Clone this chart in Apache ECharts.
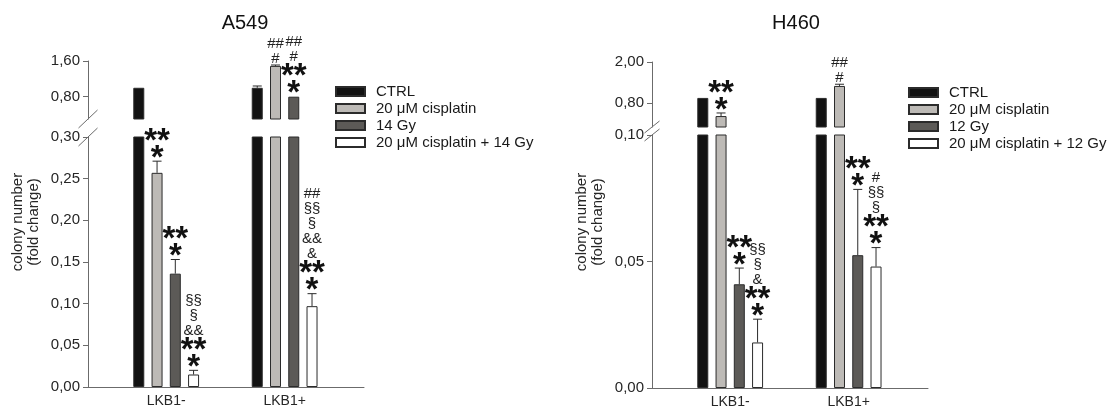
<!DOCTYPE html>
<html>
<head>
<meta charset="utf-8">
<script src="https://cdn.jsdelivr.net/npm/echarts@6/dist/echarts.min.js"></script>
<style>
  html, body { margin: 0; padding: 0; background: #ffffff; }
  #chart { width: 1117px; height: 410px; }
</style>
</head>
<body>
<div id="chart"></div>
<script>
// ---- data ----------------------------------------------------------------
const groups = ['LKB1-', 'LKB1+'];

// A549: rows = treatments, columns = [LKB1-, LKB1+]
const a549Treatments = ['CTRL', '20 μM cisplatin', '14 Gy', '20 μM cisplatin + 14 Gy'];
const a549Mean = [[1.00, 1.00], [0.257, 1.49], [0.136, 0.80], [0.015, 0.097]];
const a549Err = [[0, 0.04], [0.014, 0.02], [0.017, 0], [0.005, 0.015]];
const a549Signif = [
  ['', ''],
  ['**\n*', '##\n#'],
  ['**\n*', '##\n#\n**\n*'],
  ['§§\n§\n&&\n**\n*', '##\n§§\n§\n&&\n&\n**\n*']
];
const a549Break = 0.30;
const a549Max = 1.60;
const a549UpperTicks = [0.80, 1.60];

// H460
const h460Treatments = ['CTRL', '20 μM cisplatin', '12 Gy', '20 μM cisplatin + 12 Gy'];
const h460Mean = [[0.95, 0.95], [0.42, 1.30], [0.041, 0.0525], [0.018, 0.048]];
const h460Err = [[0, 0], [0.09, 0.05], [0.0064, 0.026], [0.0092, 0.0075]];
const h460Signif = [
  ['', ''],
  ['**\n*', '##\n#'],
  ['**\n*', '**\n*'],
  ['§§\n§\n&\n**\n*', '#\n§§\n§\n**\n*']
];
const h460Break = 0.10;
const h460Max = 2.00;
const h460UpperTicks = [0.80, 2.00];

const lowerStep = 0.05;
const yTitle = 'colony number\n(fold change)';

// ---- styling / layout ----------------------------------------------------
const FONT = '"Liberation Sans", Arial, sans-serif';
const AXIS_COLOR = '#6b6b6b';
const TEXT_COLOR = '#262626';
const BAR_COLORS = ['#121212', '#bdbab6', '#5c5a57', '#ffffff'];
const BAR_BORDER = '#2b2b2b';
const BAR_WIDTH = 11;
const BAR_GAP = 0.66;
const BAR_STEP = BAR_WIDTH * (1 + BAR_GAP);
const STAR_LINE = 17;
const SYM_LINE = 15;

const panels = [
  {
    name: 'A549', treatments: a549Treatments, mean: a549Mean, err: a549Err, signif: a549Signif,
    brk: a549Break, max: a549Max, upperTicks: a549UpperTicks,
    left: 88, width: 276, upper: [61, 119], lower: [137, 387],
    titleX: 240, legendLeft: 335, legendTop: 84, yTitleX: 26, slash: [9.5, 9]
  },
  {
    name: 'H460', treatments: h460Treatments, mean: h460Mean, err: h460Err, signif: h460Signif,
    brk: h460Break, max: h460Max, upperTicks: h460UpperTicks,
    left: 652, width: 276, upper: [62, 127], lower: [135, 388],
    titleX: 791, legendLeft: 908, legendTop: 85, yTitleX: 590, slash: [7.5, 6]
  }
];

const fmt = v => v.toFixed(2).replace('.', ',');

const starStyle = { fontFamily: FONT, fontWeight: 'bold', fontSize: 33, lineHeight: STAR_LINE, fill: '#111' };
const symStyle = { fontFamily: FONT, fontSize: 15, lineHeight: SYM_LINE, fill: '#222' };

const grid = [], xAxis = [], yAxis = [], series = [], title = [], legend = [], graphic = [];

panels.forEach((p, pi) => {
  const segs = [
    { key: 'upper', top: p.upper[0], bottom: p.upper[1], min: p.brk, max: p.max },
    { key: 'lower', top: p.lower[0], bottom: p.lower[1], min: 0, max: p.brk }
  ];
  segs.forEach(seg => {
    const gi = grid.length;
    const isLower = seg.key === 'lower';
    grid.push({ left: p.left, width: p.width, top: seg.top, height: seg.bottom - seg.top, outerBoundsMode: 'none', containLabel: false });
    xAxis.push({
      type: 'value', gridIndex: gi, min: 0.34, max: 2.67, show: isLower,
      splitLine: { show: false }, axisTick: { show: false },
      axisLine: { show: true, onZero: false, lineStyle: { color: AXIS_COLOR, width: 1 } },
      axisLabel: {
        customValues: groups.map((g, j) => j + 1), margin: 7,
        formatter: v => groups[Math.round(v) - 1] || '',
        fontFamily: FONT, fontSize: 14, color: TEXT_COLOR
      }
    });
    const yCfg = {
      type: 'value', gridIndex: gi, min: seg.min, max: seg.max,
      splitLine: { show: false },
      axisLine: { show: true, lineStyle: { color: AXIS_COLOR, width: 1 } },
      axisTick: { show: true, length: 5, lineStyle: { color: AXIS_COLOR } },
      axisLabel: { formatter: fmt, margin: 8, fontFamily: FONT, fontSize: 15, color: TEXT_COLOR }
    };
    if (isLower) {
      yCfg.interval = lowerStep;
    } else {
      yCfg.axisTick.customValues = p.upperTicks;
      yCfg.axisLabel.customValues = p.upperTicks;
    }
    yAxis.push(yCfg);

    // bars
    p.treatments.forEach((t, ti) => {
      series.push({
        type: 'bar', name: t, xAxisIndex: gi, yAxisIndex: gi,
        barWidth: BAR_WIDTH, barGap: (BAR_GAP * 100) + '%',
        clip: true, silent: true, animation: false,
        itemStyle: { color: BAR_COLORS[ti], borderColor: BAR_BORDER, borderWidth: 1 },
        data: groups.map((g, j) => {
          const v = p.mean[ti][j];
          return [j + 1, (isLower || v > p.brk) ? v : '-'];
        })
      });
    });

    // error bars and significance marks
    const pts = [];
    p.treatments.forEach((t, ti) => {
      groups.forEach((g, j) => {
        const v = p.mean[ti][j];
        const inUpper = v > p.brk;
        if (inUpper !== isLower) pts.push([j + 1, v, p.err[ti][j], ti]);
      });
    });
    series.push({
      type: 'custom', xAxisIndex: gi, yAxisIndex: gi, silent: true, animation: false, z: 5,
      data: pts,
      renderItem: (params, api) => {
        const x = api.value(0), m = api.value(1), e = api.value(2), ti = api.value(3);
        const dx = (ti - 1.5) * BAR_STEP;
        const p0 = api.coord([x, m]);
        const p1 = api.coord([x, m + e]);
        const cx = p0[0] + dx;
        const children = [];
        if (e > 0) {
          children.push({ type: 'line', shape: { x1: cx, y1: p0[1], x2: cx, y2: p1[1] }, style: { stroke: '#2b2b2b', lineWidth: 1 } });
          children.push({ type: 'line', shape: { x1: cx - 4.5, y1: p1[1], x2: cx + 4.5, y2: p1[1] }, style: { stroke: '#2b2b2b', lineWidth: 1 } });
        }
        const txt = p.signif[ti][x - 1];
        if (txt) {
          const lines = txt.split('\n');
          const stars = lines.filter(l => l.indexOf('*') >= 0);
          const syms = lines.filter(l => l.indexOf('*') < 0);
          let bottom = p1[1] + 6;
          if (stars.length) {
            children.push({
              type: 'text', x: cx, y: bottom,
              style: Object.assign({ text: stars.join('\n'), align: 'center', verticalAlign: 'bottom' }, starStyle)
            });
            // asterisks sit high in their line box, so the symbol block starts just above the glyphs
            bottom -= stars.length * STAR_LINE + 4;
          } else {
            bottom -= 5;
          }
          if (syms.length) {
            children.push({
              type: 'text', x: cx, y: bottom,
              style: Object.assign({ text: syms.join('\n'), align: 'center', verticalAlign: 'bottom' }, symStyle)
            });
          }
        }
        return { type: 'group', children };
      }
    });

    // axis break slash
    const by = isLower ? seg.top : seg.bottom;
    graphic.push({
      type: 'line', silent: true,
      shape: { x1: p.left - p.slash[0], y1: by + p.slash[1], x2: p.left + p.slash[0], y2: by - p.slash[1] },
      style: { stroke: AXIS_COLOR, lineWidth: 1 }
    });
  });

  title.push({
    text: p.name, left: p.titleX, top: 8, textAlign: 'center',
    textStyle: { fontFamily: FONT, fontSize: 20, fontWeight: 'normal', color: '#111' }
  });
  legend.push({
    data: p.treatments, left: p.legendLeft, top: p.legendTop, orient: 'vertical', padding: 0,
    icon: 'rect', itemWidth: 29, itemHeight: 9, itemGap: 2, selectedMode: false,
    textStyle: { fontFamily: FONT, fontSize: 15, lineHeight: 15, color: '#1a1a1a', padding: [0, 0, 0, 6] }
  });
  graphic.push({
    type: 'text', silent: true, x: p.yTitleX, y: 222, rotation: Math.PI / 2,
    style: { text: yTitle, align: 'center', verticalAlign: 'middle', fontFamily: FONT, fontSize: 15, lineHeight: 16, fill: '#262626' }
  });
});

const chart = echarts.init(document.getElementById('chart'), null, { renderer: 'canvas' });
chart.setOption({
  backgroundColor: '#ffffff',
  animation: false,
  title, legend, grid, xAxis, yAxis, series, graphic
});
</script>
</body>
</html>
